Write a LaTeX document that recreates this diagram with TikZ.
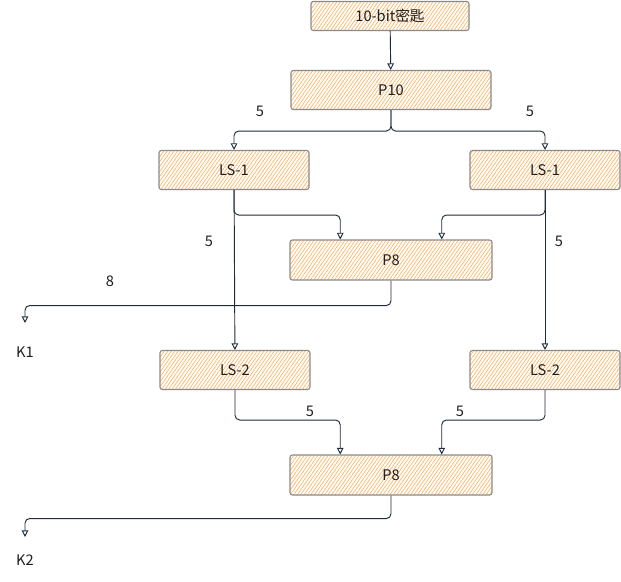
\documentclass[tikz,border=0pt]{standalone}
\usepackage{fontspec}
\setmainfont{Noto Sans CJK SC}
\usetikzlibrary{arrows.meta, calc, patterns.meta}
\definecolor{hatch}{HTML}{FCB565}
\definecolor{edgegray}{HTML}{8A8A8A}
\definecolor{inkdark}{HTML}{1E1E1E}
\definecolor{linkblue}{HTML}{1E2B3A}

\begin{document}
\begin{tikzpicture}[
  x=0.03cm, y=-0.03cm,
  >={Triangle[open, length=2mm, width=2mm]},
  keybox/.style={draw=edgegray, line width=0.9pt, rounded corners=2pt,
    pattern={Lines[angle=55, distance=2.4pt, line width=0.6pt]}, pattern color=hatch,
    minimum height=1.17cm, font=\fontsize{12.5}{14}\selectfont, text=inkdark,
    align=center, inner sep=2pt},
  link/.style={->, draw=linkblue, line width=0.8pt, rounded corners=4pt},
  bitlbl/.style={font=\fontsize{12.5}{14}\selectfont, text=inkdark},
]

% Canvas
\useasboundingbox (0,0) rectangle (621,581);

% === Key and P10 ===
\node[keybox, minimum width=4.74cm, minimum height=0.87cm] (key) at (390,16) {10-bit密匙};
\node[keybox, minimum width=6cm] (p10) at (391,90) {P10};

% === Left / right shifts ===
\node[keybox, minimum width=4.5cm] (ls1l) at (234,170) {LS-1};
\node[keybox, minimum width=4.5cm] (ls1r) at (545,170) {LS-1};
\node[keybox, minimum width=6.06cm, minimum height=1.2cm] (p8a) at (391,260) {P8};
\node[keybox, minimum width=4.5cm] (ls2l) at (235,370) {LS-2};
\node[keybox, minimum width=4.5cm] (ls2r) at (545,370) {LS-2};
\node[keybox, minimum width=6.06cm, minimum height=1.2cm] (p8b) at (391,475) {P8};

% === Outputs ===
\coordinate (k1tip) at (25,323);
\coordinate (k2tip) at (25,537);
\node[bitlbl] (k1) at (25,352) {K1};
\node[bitlbl] (k2) at (25,560) {K2};

% === Connectors ===
\draw[link] (key) -- (p10);
\draw[link] (p10.south) -- ++(0,21) -| (ls1l.north);
\draw[link] (p10.south) -- ++(0,21) -| (ls1r.north);
\draw[link] (ls1l.south) -- ++(0,25) -| ($(p8a.north west)!0.25!(p8a.north east)$);
\draw[link] (ls1r.south) -- ++(0,25) -| ($(p8a.north west)!0.75!(p8a.north east)$);
\draw[link] (ls1l) -- (ls2l);
\draw[link] (ls1r) -- (ls2r);
\draw[link] (p8a.south) -- ++(0,25) -| (k1tip);
\draw[link] (ls2l.south) -- ++(0,30) -| ($(p8b.north west)!0.25!(p8b.north east)$);
\draw[link] (ls2r.south) -- ++(0,30) -| ($(p8b.north west)!0.75!(p8b.north east)$);
\draw[link] (p8b.south) -- ++(0,23) -| (k2tip);

% === Bit widths ===
\node[bitlbl] (w1) at (260,111) {5};
\node[bitlbl] (w2) at (530,111) {5};
\node[bitlbl] (w3) at (209,241) {5};
\node[bitlbl] (w4) at (559,241) {5};
\node[bitlbl] (w5) at (110,281) {8};
\node[bitlbl] (w6) at (310,411) {5};
\node[bitlbl] (w7) at (460,411) {5};

\end{tikzpicture}
\end{document}
